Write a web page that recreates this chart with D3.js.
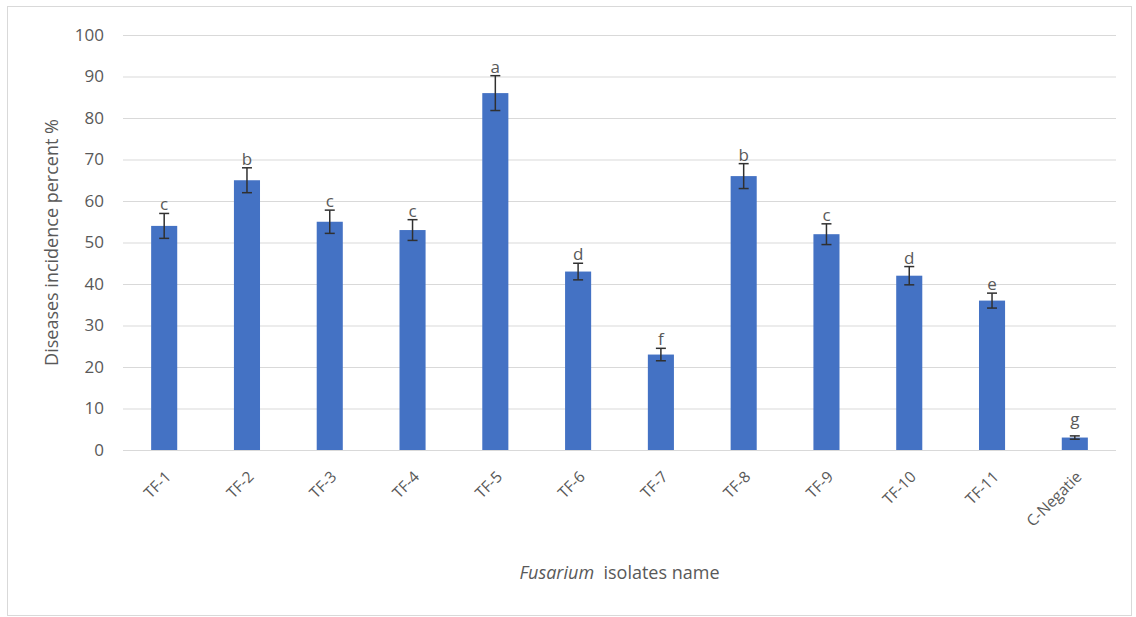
<!DOCTYPE html>
<html>
<head>
<meta charset="utf-8">
<script src="https://cdn.jsdelivr.net/npm/d3@7"></script>
<style>
  body { margin: 0; background: #fff; }
  svg text { font-family: "Open Sans", Lato, sans-serif; fill: #595959; }
</style>
</head>
<body>
<div id="chart"></div>
<script>
// Chart data
const isolates = ['TF-1', 'TF-2', 'TF-3', 'TF-4', 'TF-5', 'TF-6', 'TF-7', 'TF-8', 'TF-9', 'TF-10', 'TF-11', 'C-Negatie'];
const incidence = [54, 65, 55, 53, 86, 43, 23, 66, 52, 42, 36, 3];
const errors = [3, 3, 2.8, 2.5, 4.2, 2, 1.5, 3, 2.5, 2.2, 1.8, 0.4];
const letters = ['c', 'b', 'c', 'c', 'a', 'd', 'f', 'b', 'c', 'd', 'e', 'g'];
const yTicks = [0, 10, 20, 30, 40, 50, 60, 70, 80, 90, 100];

const width = 1136;
const height = 617;
const margin = { top: 35, right: 20, bottom: 167, left: 123 };

const svg = d3.select('#chart')
    .append('svg')
    .attr('width', width)
    .attr('height', height);

// Outer chart border
svg.append('rect')
    .attr('x', 7.5)
    .attr('y', 6.5)
    .attr('width', 1124)
    .attr('height', 609)
    .attr('fill', 'none')
    .attr('stroke', '#d9d9d9');

const x = d3.scaleBand()
    .domain(isolates)
    .range([margin.left, width - margin.right])
    .paddingInner(0.685)
    .paddingOuter(0.34);

const y = d3.scaleLinear()
    .domain([0, 100])
    .range([height - margin.bottom, margin.top]);

// Gridlines
svg.append('g')
    .selectAll('line')
    .data(yTicks)
    .join('line')
    .attr('x1', margin.left)
    .attr('x2', width - margin.right)
    .attr('y1', d => y(d) + 0.5)
    .attr('y2', d => y(d) + 0.5)
    .attr('stroke', '#d9d9d9')
    .attr('stroke-width', 1.2);

// Y axis labels
const yAxis = svg.append('g')
    .attr('transform', `translate(${margin.left - 19},0)`)
    .call(d3.axisLeft(y).tickValues(yTicks).tickSize(0).tickPadding(0));
yAxis.select('.domain').remove();
yAxis.selectAll('text')
    .style('font-size', '17px')
    .style('font-family', '"Open Sans", Lato, sans-serif')
    .attr('fill', '#595959');

// Bars
svg.append('g')
    .selectAll('rect')
    .data(isolates)
    .join('rect')
    .attr('x', d => x(d))
    .attr('y', (d, i) => y(incidence[i]))
    .attr('width', x.bandwidth())
    .attr('height', (d, i) => y(0) - y(incidence[i]))
    .attr('fill', '#4472c4');

// Error bars
const err = svg.append('g')
    .attr('stroke', '#303030')
    .attr('stroke-width', 1.5);
isolates.forEach((d, i) => {
    const cx = x(d) + x.bandwidth() / 2;
    const top = y(incidence[i] + errors[i]);
    const bot = y(incidence[i] - errors[i]);
    err.append('line').attr('x1', cx).attr('x2', cx).attr('y1', top).attr('y2', bot);
    err.append('line').attr('x1', cx - 5).attr('x2', cx + 5).attr('y1', top).attr('y2', top);
    err.append('line').attr('x1', cx - 5).attr('x2', cx + 5).attr('y1', bot).attr('y2', bot);
});

// Significance letters (kept clear of very short bars)
svg.append('g')
    .selectAll('text')
    .data(isolates)
    .join('text')
    .attr('x', d => x(d) + x.bandwidth() / 2)
    .attr('y', (d, i) => Math.min(y(incidence[i] + errors[i]) - 3, y(0) - 25))
    .attr('text-anchor', 'middle')
    .style('font-size', '17px')
    .text((d, i) => letters[i]);

// X axis labels (rotated)
svg.append('g')
    .selectAll('text')
    .data(isolates)
    .join('text')
    .attr('transform', d => `translate(${x(d) + x.bandwidth() / 2 + 4},${y(0) + 24}) rotate(-45)`)
    .attr('text-anchor', 'end')
    .attr('dy', '0.35em')
    .style('font-size', '15.5px')
    .text(d => d);

// Y axis title
svg.append('text')
    .attr('transform', `translate(52,${(y(0) + y(100)) / 2}) rotate(-90)`)
    .attr('text-anchor', 'middle')
    .attr('dy', '0.35em')
    .style('font-size', '18px')
    .text('Diseases incidence percent %');

// X axis title
const xTitle = svg.append('text')
    .attr('x', (margin.left + width - margin.right) / 2)
    .attr('y', 579)
    .attr('text-anchor', 'middle')
    .style('font-size', '18px');
xTitle.append('tspan').style('font-style', 'italic').text('Fusarium');
xTitle.append('tspan').text('\u00a0 isolates name');
</script>
</body>
</html>
